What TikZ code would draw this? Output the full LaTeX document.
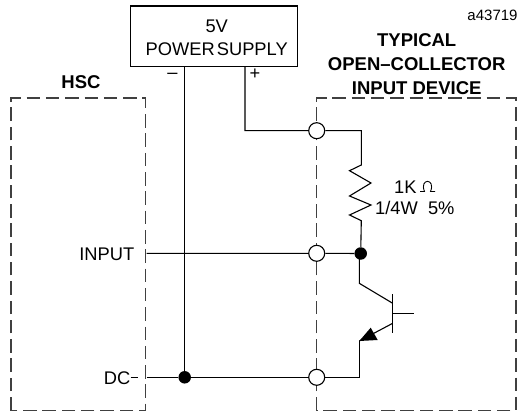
\documentclass[tikz,border=0pt]{standalone}
\usepackage{fontspec}
\setmainfont{Liberation Sans}
\usepackage{tikz}

\tikzset{
  wire/.style={line width=1.1pt},
  device/.style={line width=1.1pt,dash pattern=on 13.5pt off 5.8pt,draw=black!75},
  term/.style={circle,draw,fill=white,line width=1.1pt,inner sep=0pt,minimum size=16pt},
  joint/.style={circle,fill=black,inner sep=0pt,minimum size=12.5pt},
  lbl/.style={font=\fontsize{18.3}{21}\selectfont,inner sep=0pt},
  head/.style={font=\fontsize{18.5}{24}\selectfont\bfseries,inner sep=0pt,align=center}
}

\begin{document}
\begin{tikzpicture}[x=1pt,y=-1pt]
\useasboundingbox (0,0) rectangle (519,414);

\coordinate (hscNW) at (11,98);
\coordinate (hscNE) at (145.5,98);
\coordinate (hscSW) at (11,410.5);
\coordinate (hscSE) at (145.5,410.5);
\coordinate (devNW) at (316.7,98);
\coordinate (devNE) at (516,98);
\coordinate (devSW) at (316.7,410.5);
\coordinate (devSE) at (516,410.5);

\draw[device] (hscSW)--(hscNW)--(hscNE)--(hscSE)--cycle;
\draw[device] (devSW)--(devNW)--(devNE)--(devSE)--cycle;

\node[draw,wire,minimum width=167pt,minimum height=60.5pt,inner sep=0pt] (psu) at (213.7,36.3) {};
\node[lbl] (vlt) at (216.7,26) {5V};
\node[lbl] (pwr) at (216.7,49) {POWER\hspace{2pt}SUPPLY};
\node[lbl] (minus) at (172.5,76) {--};
\node[lbl] (plus) at (255,74) {+};
\node[head] (hsc) at (81,82) {HSC};
\node[head] (typ) at (416.7,64.5) {TYPICAL\\OPEN--COLLECTOR\\INPUT DEVICE};
\node[font=\fontsize{15}{17}\selectfont,inner sep=0pt] (tag) at (492.5,15) {a43719};

\node[lbl,anchor=east] (input) at (134.5,254) {INPUT};
\node[lbl,anchor=east] (dc) at (130.5,378) {DC};
\node[lbl,anchor=west] (ohm) at (394,187) {1K};
\node[lbl,anchor=west] (watt) at (375,207.5) {1/4W\ \ 5\%};

% wiring
\coordinate (plusup) at (245,66.5);
\coordinate (plusdn) at (245,130.7);
\coordinate (minusup) at (184.7,66.5);
\coordinate (dcin) at (146.7,377.3);
\coordinate (inpin) at (146.7,253.3);
\coordinate (rtop) at (361.3,130.7);
\coordinate (cola) at (359.3,283.3);
\coordinate (colb) at (392.7,303.3);
\coordinate (emia) at (392.7,323.3);
\coordinate (emib) at (359.3,341);
\coordinate (emic) at (359.3,377.3);
\coordinate (base) at (392.7,313.3);
\coordinate (bout) at (414,313.3);
\coordinate (bart) at (392.7,294);
\coordinate (barb) at (392.7,332.7);

\node[term] (t1) at (316.7,130.7) {};
\node[term] (t2) at (316.7,253.3) {};
\node[term] (t3) at (316.7,377.3) {};
\node[joint] (j1) at (360.7,253.5) {};
\node[joint] (j2) at (184.7,377.3) {};

\draw[wire] (plusup)--(plusdn)--(t1)--(rtop)--(361.3,165)
  --(349.5,170.7)--(371,183)--(349.5,196)--(371,205)--(349.5,215)--(361.3,220.7)--(j1);
\draw[wire] (inpin)--(t2)--(j1);
\draw[wire] (dcin)--(j2)--(t3)--(emic)--(emib);
\draw[wire] (minusup)--(j2);
\draw[wire] (359.3,253.5)--(cola)--(colb);
\draw[wire] (bart)--(barb);
\draw[wire] (base)--(bout);
\draw[wire] (emia)--(emib);
\draw[line width=0.9pt] (130.7,377)--(137.7,377);
\fill (359.3,341)--(370.7,327.7)--(377.7,340)--cycle;
\draw[line width=0.9pt] (420,191.5)--(424.5,191.5) .. controls (419,178) and (436,178) .. (430.5,191.5)--(435,191.5);
\end{tikzpicture}
\end{document}
